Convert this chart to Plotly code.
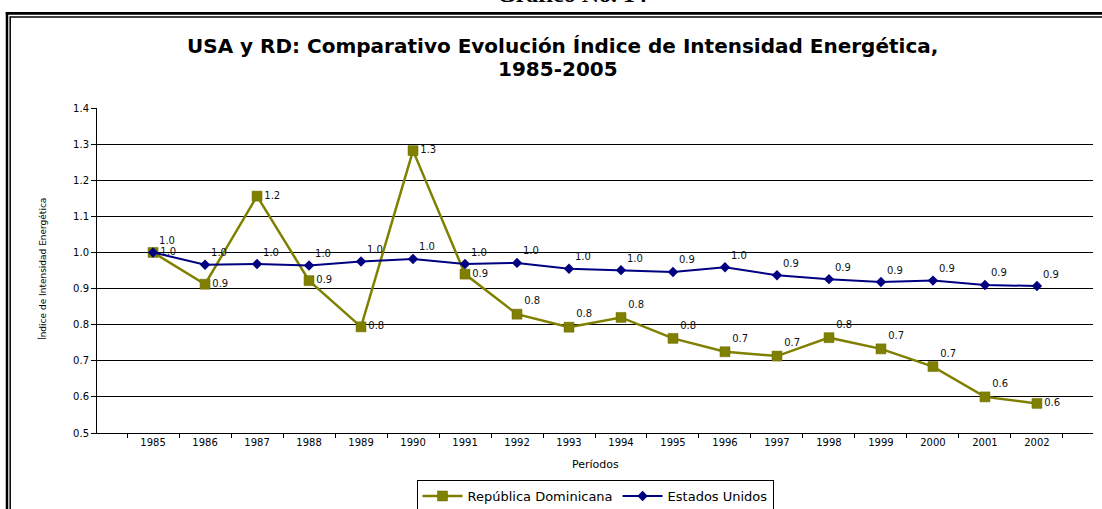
import plotly.graph_objects as go

# ---------------- data ----------------
years = ["1985", "1986", "1987", "1988", "1989", "1990", "1991", "1992", "1993",
         "1994", "1995", "1996", "1997", "1998", "1999", "2000", "2001", "2002"]
rd_values = [1.000, 0.912, 1.156, 0.922, 0.794, 1.282, 0.940, 0.829, 0.793,
             0.820, 0.762, 0.725, 0.713, 0.764, 0.733, 0.684, 0.600, 0.582]
usa_values = [1.000, 0.966, 0.968, 0.964, 0.975, 0.982, 0.968, 0.971, 0.955,
              0.951, 0.946, 0.959, 0.937, 0.926, 0.918, 0.922, 0.910, 0.907]
rd_name = "República Dominicana"
usa_name = "Estados Unidos"
title_line1 = "USA y RD: Comparativo Evolución Índice de Intensidad Energética,"
title_line2 = "1985-2005"
page_heading = "Gráfico No. 14"
y_title = "Índice de Intensidad Energética"
x_title = "Períodos"

# ---------------- layout geometry ----------------
W, H = 1102, 509
L, R, T, B = 97, 9, 108, 76
PW, PH = W - L - R, H - T - B


def px(x):
    return (x - L) / PW


def py(y):
    return (H - B - y) / PH


FONT = "DejaVu Sans, Arial, sans-serif"
RD_COLOR = "#808000"
USA_COLOR = "#000080"

rd_pos = ["middle right"] * 7 + ["top right"] * 10 + ["middle right"]
usa_pos = ["top right"] * len(years)

fig = go.Figure()
fig.add_trace(go.Scatter(
    x=years, y=rd_values, name=rd_name, mode="lines+markers+text",
    line=dict(color=RD_COLOR, width=2.5),
    marker=dict(symbol="square", size=10, color=RD_COLOR,
                line=dict(color="#6b6b00", width=0.5)),
    text=[f"{v:.1f}" for v in rd_values], textposition=rd_pos,
    textfont=dict(family=FONT, size=10, color="#111"),
    cliponaxis=False,
))
fig.add_trace(go.Scatter(
    x=years, y=usa_values, name=usa_name, mode="lines+markers+text",
    line=dict(color=USA_COLOR, width=2),
    marker=dict(symbol="diamond", size=8, color=USA_COLOR),
    text=[f"{v:.1f}" for v in usa_values], textposition=usa_pos,
    textfont=dict(family=FONT, size=10, color="#111"),
    cliponaxis=False,
))

annotations = [
    dict(text=title_line1, x=px(562), y=py(45.5), xref="paper", yref="paper",
         showarrow=False, xanchor="center", yanchor="middle",
         font=dict(family=FONT, size=20, color="black", weight="bold")),
    dict(text=title_line2, x=px(558), y=py(69), xref="paper", yref="paper",
         showarrow=False, xanchor="center", yanchor="middle",
         font=dict(family=FONT, size=20, color="black", weight="bold")),
    dict(text=page_heading, x=px(572), y=py(-6), xref="paper", yref="paper",
         showarrow=False, xanchor="center", yanchor="middle",
         font=dict(family="Liberation Serif, Times New Roman, serif", size=24,
                   color="black", weight="bold")),
    dict(text=y_title, x=px(42), y=py(269), xref="paper", yref="paper",
         showarrow=False, xanchor="center", yanchor="middle", textangle=-90,
         font=dict(family=FONT, size=9, color="black")),
    dict(text=x_title, x=px(595), y=py(464), xref="paper", yref="paper",
         showarrow=False, xanchor="center", yanchor="middle",
         font=dict(family=FONT, size=11, color="black")),
]

shapes = [
    # outer double frame (thick outer, thin inner)
    dict(type="line", xref="paper", yref="paper", x0=px(5.8), x1=px(1120),
         y0=py(13.3), y1=py(13.3), line=dict(color="black", width=2.8)),
    dict(type="line", xref="paper", yref="paper", x0=px(7), x1=px(7),
         y0=py(12), y1=py(530), line=dict(color="black", width=2.5)),
    dict(type="line", xref="paper", yref="paper", x0=px(10.2), x1=px(1120),
         y0=py(17), y1=py(17), line=dict(color="black", width=1.5)),
    dict(type="line", xref="paper", yref="paper", x0=px(10.2), x1=px(10.2),
         y0=py(16.3), y1=py(530), line=dict(color="black", width=1.5)),
]

fig.update_layout(
    width=W, height=H,
    margin=dict(l=L, r=R, t=T, b=B, autoexpand=False),
    paper_bgcolor="white", plot_bgcolor="white",
    font=dict(family=FONT, size=10, color="black"),
    showlegend=True,
    legend=dict(orientation="h", x=0.5, xanchor="center", y=py(480), yanchor="top",
                bordercolor="black", borderwidth=1, bgcolor="white",
                font=dict(family=FONT, size=13, color="black"),
                itemwidth=40, tracegroupgap=0),
    annotations=annotations,
    shapes=shapes,
    xaxis=dict(type="category", showgrid=False, showline=True, linecolor="black",
               linewidth=1, ticks="outside", tickson="boundaries", ticklen=4,
               tickcolor="black", tickfont=dict(family=FONT, size=10),
               zeroline=False, fixedrange=True),
    yaxis=dict(range=[0.5, 1.4], dtick=0.1, tick0=0.5, tickformat=".1f",
               showgrid=True, gridcolor="black", gridwidth=1, showline=True,
               linecolor="black", linewidth=1, ticks="outside", ticklen=5,
               tickcolor="black", tickfont=dict(family=FONT, size=10),
               zeroline=False, fixedrange=True),
)

fig.write_html("out.html",
               config={"displayModeBar": False, "staticPlot": True},
               post_script="document.body.style.margin='0';"
                           "document.body.style.overflow='hidden';")
